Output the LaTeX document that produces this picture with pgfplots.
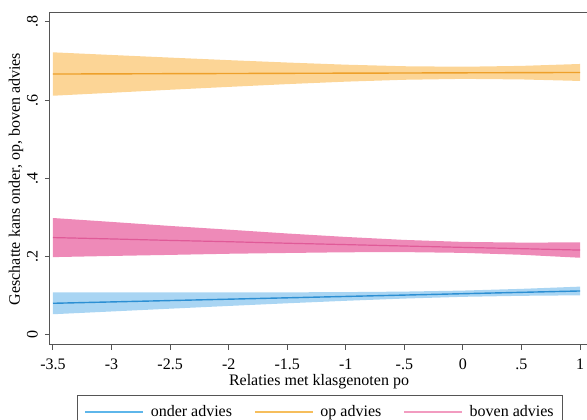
\documentclass[border=0pt]{standalone}
\usepackage{fontspec}
\setmainfont{Liberation Serif}
\usepackage{pgfplots}
\pgfplotsset{compat=1.18}
\usepgfplotslibrary{fillbetween}
\definecolor{bluel}{HTML}{2C8FD3}
\definecolor{bluef}{HTML}{A9D5F3}
\definecolor{bluelg}{HTML}{5EB6EA}
\definecolor{orl}{HTML}{EEA02A}
\definecolor{orf}{HTML}{FCD596}
\definecolor{orlg}{HTML}{F6BE5C}
\definecolor{pkl}{HTML}{E05A98}
\definecolor{pkf}{HTML}{EE8AB8}
\definecolor{pklg}{HTML}{F29CC0}
\definecolor{axc}{HTML}{555555}
\begin{document}
\begin{tikzpicture}
\begin{axis}[
  scale only axis, width=538pt, height=332pt,
  xmin=-3.5256, xmax=1.068, ymin=-0.0256, ymax=0.823,
  axis line style={axc, line width=1pt},
  xtick={-3.5,-3,-2.5,-2,-1.5,-1,-0.5,0,0.5,1},
  xticklabels={-3.5,-3,-2.5,-2,-1.5,-1,-.5,0,.5,1},
  ytick={0,0.2,0.4,0.6,0.8}, yticklabels={0,.2,.4,.6,.8},
  tick align=outside, major tick length=5pt,
  tick style={axc, line width=1pt},
  xtick pos=bottom, ytick pos=left,
  font=\fontsize{16}{19}\selectfont,
  xticklabel style={anchor=north, inner sep=0pt, yshift=-9pt},
  yticklabel style={rotate=90, anchor=south, inner xsep=0pt, inner ysep=7pt},
  xlabel={Relaties met klasgenoten po},
  ylabel={Geschatte kans onder, op, boven advies},
  xlabel style={at={(axis description cs:0.5,-0.1205)}, anchor=base, inner sep=0pt},
  ylabel style={at={(axis description cs:-0.0632,0.5)}, anchor=center, inner sep=0pt},
  legend columns=3,
  legend style={at={(axis description cs:0.501,-0.1506)}, anchor=north,
    draw=none, fill=none, inner xsep=6pt, inner ysep=10pt,
    font=\fontsize{16}{19}\selectfont,
    nodes={inner sep=0pt, anchor=west},
    /tikz/every odd column/.append style={column sep=8pt},
    /tikz/every even column/.append style={column sep=23pt}},
]
% onder advies (blue)
\addplot[name path=bu, draw=none, forget plot] coordinates {(-3.5,0.109) (-3,0.1089) (-2.5,0.1088) (-2,0.1088) (-1.5,0.109) (-1,0.1096) (-0.5,0.1109) (0,0.1135) (0.5,0.1179) (1,0.1236)};
\addplot[name path=bl, draw=none, forget plot] coordinates {(-3.5,0.053) (-3,0.0601) (-2.5,0.0672) (-2,0.0742) (-1.5,0.081) (-1,0.0874) (-0.5,0.0931) (0,0.0975) (0.5,0.1001) (1,0.1014)};
\addplot[fill=bluef, draw=none, forget plot] fill between[of=bu and bl];
% op advies (orange)
\addplot[name path=ou, draw=none, forget plot] coordinates {(-3.5,0.7225) (-3,0.7157) (-2.5,0.7090) (-2,0.7025) (-1.5,0.6964) (-1,0.6909) (-0.5,0.6869) (0,0.6856) (0.5,0.6878) (1,0.6927)};
\addplot[name path=ol, draw=none, forget plot] coordinates {(-3.5,0.6115) (-3,0.6191) (-2.5,0.6268) (-2,0.6341) (-1.5,0.6412) (-1,0.6475) (-0.5,0.6523) (0,0.6546) (0.5,0.6532) (1,0.6493)};
\addplot[fill=orf, draw=none, forget plot] fill between[of=ou and ol];
% boven advies (pink)
\addplot[name path=pu, draw=none, forget plot] coordinates {(-3.5,0.299) (-3,0.289) (-2.5,0.2787) (-2,0.2692) (-1.5,0.2594) (-1,0.2506) (-0.5,0.2430) (0,0.2379) (0.5,0.2362) (1,0.2366)};
\addplot[name path=pl, draw=none, forget plot] coordinates {(-3.5,0.199) (-3,0.202) (-2.5,0.2047) (-2,0.2076) (-1.5,0.2096) (-1,0.2114) (-0.5,0.2118) (0,0.2099) (0.5,0.2050) (1,0.1974)};
\addplot[fill=pkf, draw=none, forget plot] fill between[of=pu and pl];
% center lines
\addplot[bluel, line width=1.4pt, forget plot] coordinates {(-3.5,0.081) (-3,0.0845) (-2.5,0.088) (-2,0.0915) (-1.5,0.095) (-1,0.0985) (-0.5,0.102) (0,0.1055) (0.5,0.109) (1,0.1125)};
\addplot[orl, line width=1.4pt, forget plot] coordinates {(-3.5,0.667) (-3,0.6674) (-2.5,0.6679) (-2,0.6683) (-1.5,0.6688) (-1,0.6692) (-0.5,0.6696) (0,0.6701) (0.5,0.6705) (1,0.671)};
\addplot[pkl, line width=1.2pt, forget plot] coordinates {(-3.5,0.249) (-3,0.2455) (-2.5,0.2417) (-2,0.2384) (-1.5,0.2345) (-1,0.2310) (-0.5,0.2274) (0,0.2239) (0.5,0.2206) (1,0.2170)};
\addlegendimage{legend image code/.code={\fill[bluelg] (0pt,-0.6pt) rectangle (57pt,0.6pt);}}
\addlegendentry{onder advies}
\addlegendimage{legend image code/.code={\fill[orlg] (0pt,-0.6pt) rectangle (57pt,0.6pt);}}
\addlegendentry{op advies}
\addlegendimage{legend image code/.code={\fill[pklg] (0pt,-0.6pt) rectangle (57pt,0.6pt);}}
\addlegendentry{boven advies}
\end{axis}
\draw[axc, line width=0.8pt] (27pt,-50pt) rectangle (512pt,-85pt);
\pgfresetboundingbox
\useasboundingbox (-50pt,-75pt) rectangle (537pt,345pt);
\end{tikzpicture}
\end{document}
